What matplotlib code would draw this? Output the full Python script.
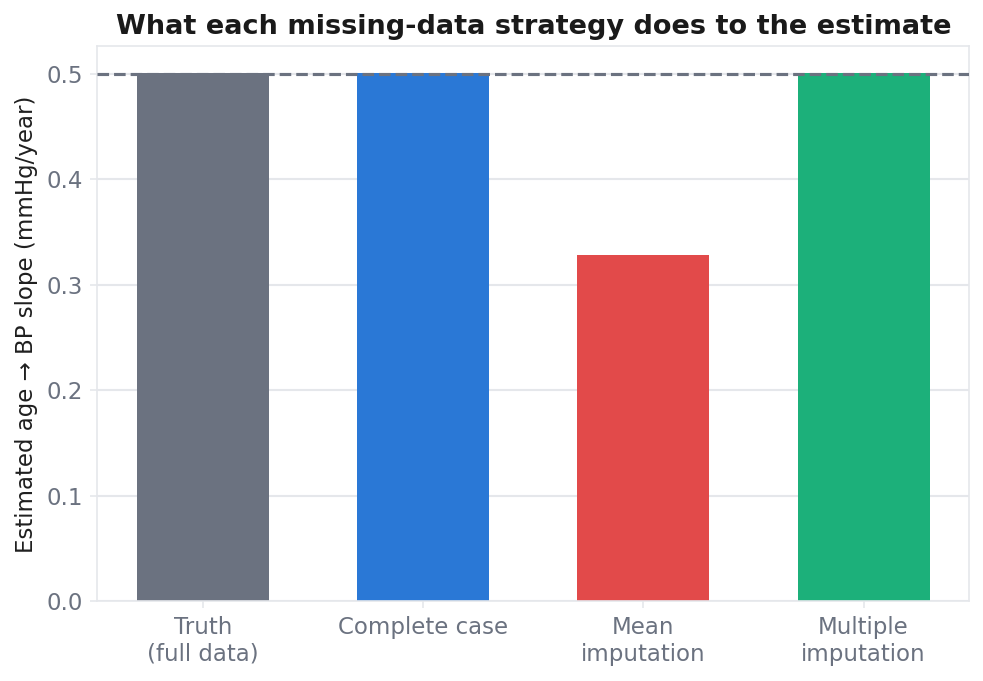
import matplotlib
matplotlib.use("Agg")
import matplotlib.pyplot as plt

# data
strategies = ["Truth\n(full data)", "Complete case", "Mean\nimputation", "Multiple\nimputation"]
slopes = [0.501, 0.501, 0.328, 0.501]
true_slope = 0.5
bar_colors = ["#6b7280", "#2a78d6", "#e24a4a", "#1cb07a"]

text_gray = "#6b7280"
edge_gray = "#e5e7eb"

fig, ax = plt.subplots(figsize=(6.56, 4.54), dpi=150)
x = range(len(strategies))
ax.bar(x, slopes, width=0.6, color=bar_colors, zorder=2)
ax.axhline(true_slope, color="#6b7280", linestyle="--", linewidth=1.5, zorder=3)

ax.set_xticks(list(x))
ax.set_xticklabels(strategies)
ax.set_ylabel("Estimated age \u2192 BP slope (mmHg/year)", fontsize=11, color="#1f1f1f")
ax.set_title("What each missing-data strategy does to the estimate",
             fontsize=13, fontweight="bold", color="#1a1a1a")

ax.grid(axis="y", color=edge_gray, linewidth=1, zorder=0)
ax.set_axisbelow(True)
for s in ax.spines.values():
    s.set_color(edge_gray)
ax.tick_params(colors=edge_gray, labelcolor=text_gray, labelsize=11)

fig.subplots_adjust(left=0.099, right=0.985, top=0.932, bottom=0.117)
fig.savefig("out.png", dpi=150)
